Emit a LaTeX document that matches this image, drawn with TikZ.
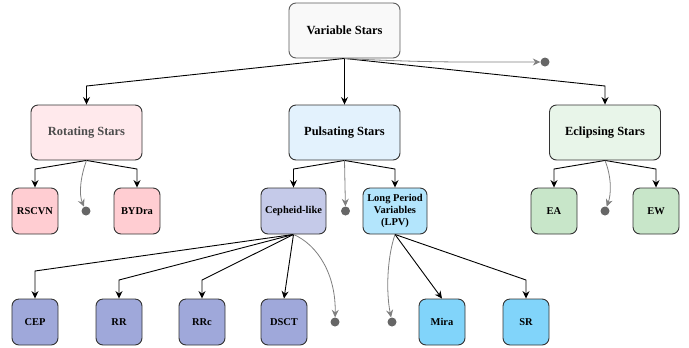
\documentclass[tikz,border=0pt]{standalone}
\usepackage{fontspec}
\setmainfont{Liberation Serif}
\usetikzlibrary{arrows.meta}

\definecolor{boxline}{HTML}{333333}
\definecolor{rootfill}{HTML}{F9F9F9}
\definecolor{rotfill}{HTML}{FFE9EC}
\definecolor{rotleaf}{HTML}{FFCDD2}
\definecolor{pulfill}{HTML}{E3F2FD}
\definecolor{cepfill}{HTML}{C5CAE9}
\definecolor{cepleaf}{HTML}{9FA8DA}
\definecolor{lpvfill}{HTML}{B3E5FC}
\definecolor{lpvleaf}{HTML}{81D4FA}
\definecolor{eclfill}{HTML}{E8F5E9}
\definecolor{eclleaf}{HTML}{C8E6C9}
\definecolor{grayline}{HTML}{7F7F7F}
\definecolor{dotgray}{HTML}{666666}

\tikzset{
  box/.style={draw=boxline, line width=0.9bp, rounded corners=7bp, align=center,
    inner sep=2bp, font=\bfseries\fontsize{10.5}{12.5}\selectfont},
  bigbox/.style={box, minimum width=111bp, minimum height=55bp,
    font=\bfseries\fontsize{12.5}{15}\selectfont},
  leafbox/.style={box, minimum width=46bp, minimum height=46bp},
  midbox/.style={box, minimum width=65bp, minimum height=46bp},
  edge/.style={-{Stealth[length=7.5bp,width=7bp,inset=2.5bp]}, line width=0.9bp},
  sideedge/.style={edge, draw=grayline, line width=0.8bp},
  dot/.style={circle, fill=dotgray, inner sep=0pt, minimum size=9bp}
}

\begin{document}
\begin{tikzpicture}[x=1bp,y=-1bp]
\useasboundingbox (0,0) rectangle (689,347);

% top level
\node[bigbox, draw=boxline!80, fill=rootfill] (vs) at (344.5,30.5) {Variable Stars};
\node[dot] (d0) at (545,62) {};

% classes
\node[bigbox, fill=rotfill, text=black!70] (rot) at (86.5,132.5) {Rotating Stars};
\node[bigbox, fill=pulfill] (pul) at (344.5,132.5) {Pulsating Stars};
\node[bigbox, fill=eclfill] (ecl) at (605,132.5) {Eclipsing Stars};

% second row
\node[leafbox, fill=rotleaf] (rscvn) at (35,211) {RSCVN};
\node[dot] (d1) at (86,211) {};
\node[leafbox, fill=rotleaf] (bydra) at (137,211) {BYDra};
\node[midbox, fill=cepfill] (ceph) at (293.5,211) {Cepheid-like};
\node[dot] (d2) at (345.5,211) {};
\node[midbox, minimum width=64bp, fill=lpvfill] (lpv) at (395,211) {Long Period\\Variables\\(LPV)};
\node[leafbox, fill=eclleaf] (ea) at (554,211) {EA};
\node[dot] (d3) at (605,211) {};
\node[leafbox, fill=eclleaf] (ew) at (656,211) {EW};

% third row
\node[leafbox, fill=cepleaf] (cep) at (35,322) {CEP};
\node[leafbox, fill=cepleaf] (rr) at (119,322) {RR};
\node[leafbox, fill=cepleaf] (rrc) at (202,322) {RRc};
\node[leafbox, fill=cepleaf] (dsct) at (284,322) {DSCT};
\node[dot] (d4) at (335,322) {};
\node[dot] (d5) at (392,322) {};
\node[leafbox, fill=lpvleaf] (mira) at (442,322) {Mira};
\node[leafbox, fill=lpvleaf] (sr) at (526,322) {SR};

% connectors
\draw[edge] (vs.south) -- (rot.north |- 0,86) -- (rot.north);
\draw[edge] (vs.south) -- (pul.north);
\draw[edge] (vs.south) -- (ecl.north |- 0,86) -- (ecl.north);
\draw[sideedge] (vs.south) .. controls (430,63) and (480,62) .. (d0);

\draw[edge] (rot.south) -- (rscvn.north |- 0,169) -- (rscvn.north);
\draw[edge] (rot.south) -- (bydra.north |- 0,169) -- (bydra.north);
\draw[sideedge] (rot.south) .. controls (80,178) and (79,195) .. (d1);

\draw[edge] (pul.south) -- (ceph.north |- 0,169) -- (ceph.north);
\draw[edge] (pul.south) -- (lpv.north |- 0,169) -- (lpv.north);
\draw[sideedge] (pul.south) -- (d2);

\draw[edge] (ecl.south) -- (ea.north |- 0,169) -- (ea.north);
\draw[edge] (ecl.south) -- (ew.north |- 0,169) -- (ew.north);
\draw[sideedge] (ecl.south) .. controls (612,178) and (611,195) .. (d3);

\draw[edge] (ceph.south) -- (cep.north |- 0,271) -- (cep.north);
\draw[edge] (ceph.south) -- (rr.north |- 0,280) -- (rr.north);
\draw[edge] (ceph.south) -- (rrc.north |- 0,280) -- (rrc.north);
\draw[edge] (ceph.south) -- (dsct.north);
\draw[sideedge] (ceph.south) .. controls (318,245) and (336,275) .. (d4);

\draw[edge] (lpv.south) -- (mira.north);
\draw[edge] (lpv.south) -- (sr.north |- 0,280) -- (sr.north);
\draw[sideedge] (lpv.south) .. controls (387,258) and (386,292) .. (d5);
\end{tikzpicture}
\end{document}
